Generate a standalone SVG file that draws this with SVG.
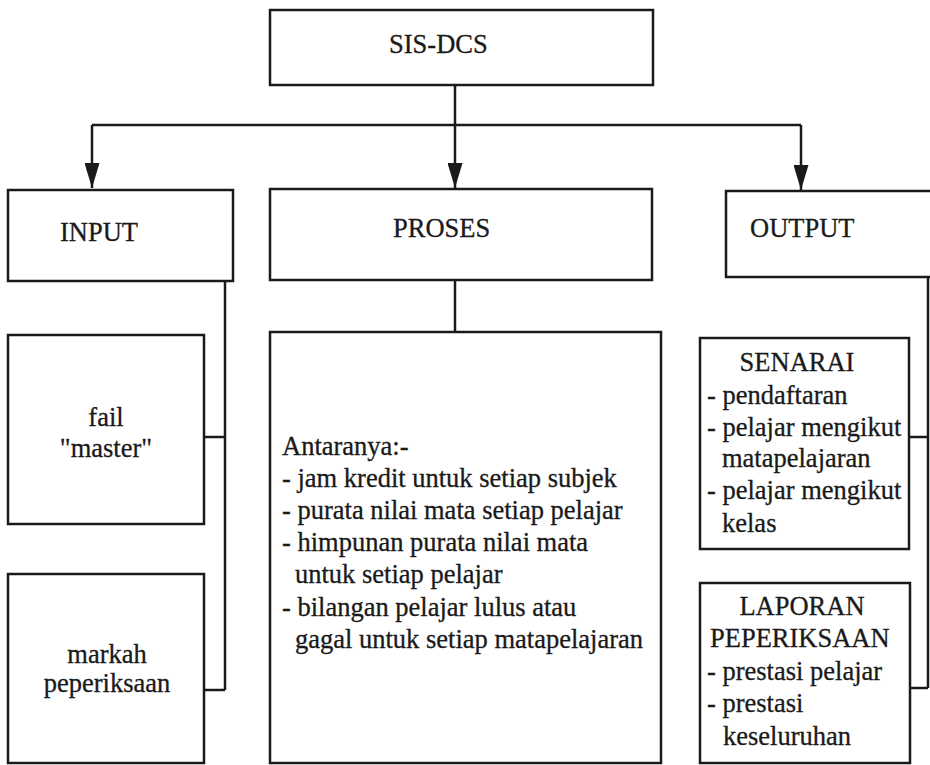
<svg xmlns="http://www.w3.org/2000/svg" width="930" height="765" viewBox="0 0 930 765">
  <style>
    .box { fill: #ffffff; stroke: #1a1a1a; stroke-width: 2.5; }
    .ln { fill: none; stroke: #1a1a1a; stroke-width: 2.5; }
    text { font-family: "Liberation Serif", "Times New Roman", serif; font-size: 26.5px; fill: #1a1a1a; stroke: #1a1a1a; stroke-width: 0.3; }
    .mid { text-anchor: middle; }
  </style>
  <defs>
    <marker id="arrow" viewBox="0 0 25 15" refX="25" refY="7.5" markerWidth="25" markerHeight="15" markerUnits="userSpaceOnUse" orient="auto">
      <path d="M0,0 L25,7.5 L0,15 Z" fill="#1a1a1a"/>
    </marker>
  </defs>
  <rect width="930" height="765" fill="#ffffff"/>

  <g id="connectors">
    <path class="ln" d="M455,85 V125"/>
    <path class="ln" d="M92,125 H801"/>
    <path class="ln" d="M92,125 V188" marker-end="url(#arrow)"/>
    <path class="ln" d="M455,125 V188" marker-end="url(#arrow)"/>
    <path class="ln" d="M801,125 V190" marker-end="url(#arrow)"/>
    <path class="ln" d="M225,281 V690"/>
    <path class="ln" d="M204,437 H225"/>
    <path class="ln" d="M204,690 H225"/>
    <path class="ln" d="M455,280 V332"/>
    <path class="ln" d="M928,277 V688"/>
    <path class="ln" d="M909,437 H928"/>
    <path class="ln" d="M910,688 H928"/>
  </g>

  <g id="sis-dcs">
    <rect class="box" x="270" y="10" width="383" height="75"/>
    <text x="389" y="53">SIS-DCS</text>
  </g>

  <g id="input">
    <rect class="box" x="8" y="190" width="225" height="91"/>
    <text x="60" y="241">INPUT</text>
  </g>

  <g id="proses">
    <rect class="box" x="270" y="189" width="382" height="91"/>
    <text x="393" y="237">PROSES</text>
  </g>

  <g id="output">
    <rect class="box" x="726" y="191" width="210" height="86"/>
    <text x="750" y="237">OUTPUT</text>
  </g>

  <g id="fail-master">
    <rect class="box" x="8" y="335" width="196" height="189"/>
    <text class="mid" x="106" y="426">fail</text>
    <text class="mid" x="106" y="457">"master"</text>
  </g>

  <g id="markah-peperiksaan">
    <rect class="box" x="8" y="574" width="196" height="189"/>
    <text class="mid" x="107" y="663">markah</text>
    <text class="mid" x="107" y="692">peperiksaan</text>
  </g>

  <g id="proses-detail">
    <rect class="box" x="270" y="332" width="391" height="431"/>
    <text x="282" y="455">Antaranya:-</text>
    <text x="282" y="487">- jam kredit untuk setiap subjek</text>
    <text x="282" y="519">- purata nilai mata setiap pelajar</text>
    <text x="282" y="551">- himpunan purata nilai mata</text>
    <text x="295" y="583">untuk setiap pelajar</text>
    <text x="282" y="616">- bilangan pelajar lulus atau</text>
    <text x="295" y="648">gagal untuk setiap matapelajaran</text>
  </g>

  <g id="senarai">
    <rect class="box" x="700" y="338" width="209" height="211"/>
    <text class="mid" x="797" y="371">SENARAI</text>
    <text x="707" y="404">- pendaftaran</text>
    <text x="707" y="436">- pelajar mengikut</text>
    <text x="722" y="467">matapelajaran</text>
    <text x="707" y="499">- pelajar mengikut</text>
    <text x="722" y="532">kelas</text>
  </g>

  <g id="laporan-peperiksaan">
    <rect class="box" x="700" y="583" width="210" height="180"/>
    <text class="mid" x="802" y="615">LAPORAN</text>
    <text x="710" y="647">PEPERIKSAAN</text>
    <text x="707" y="680">- prestasi pelajar</text>
    <text x="707" y="712">- prestasi</text>
    <text x="723" y="745">keseluruhan</text>
  </g>
</svg>
